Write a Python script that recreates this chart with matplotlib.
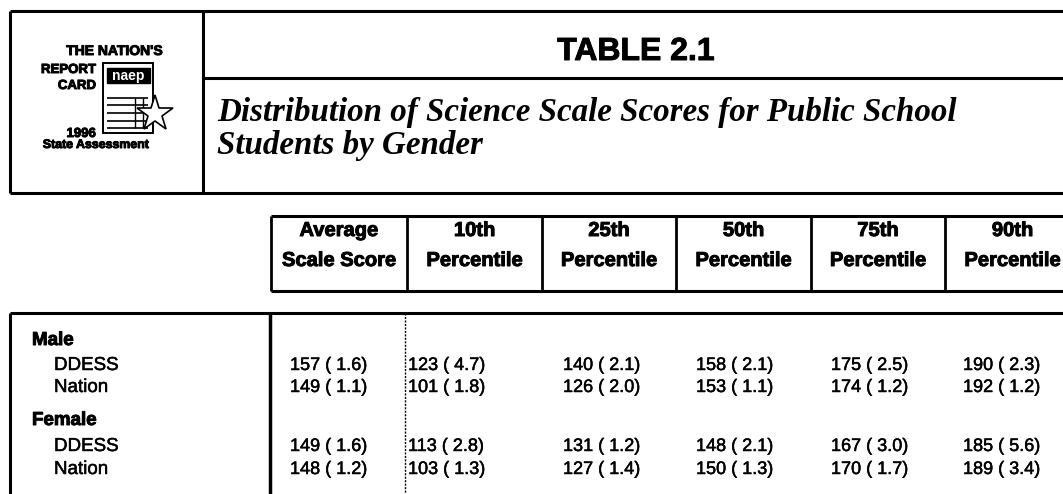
import matplotlib
matplotlib.use("Agg")
import matplotlib.pyplot as plt
import matplotlib.patheffects as pe
from matplotlib.patches import Rectangle

# table content
TITLE = "TABLE 2.1"
SUBTITLE = ["Distribution of Science Scale Scores for Public School",
            "Students by Gender"]
COL_HEADERS = [("Average", "Scale Score"),
               ("10th", "Percentile"),
               ("25th", "Percentile"),
               ("50th", "Percentile"),
               ("75th", "Percentile"),
               ("90th", "Percentile")]
GROUPS = ["Male", "Female"]
SUBROWS = ["DDESS", "Nation"]

# one list per column: Male DDESS, Male Nation, Female DDESS, Female Nation
avg_score = [157, 149, 149, 148]
avg_se = [1.6, 1.1, 1.6, 1.2]
p10 = [123, 101, 113, 103]
p10_se = [4.7, 1.8, 2.8, 1.3]
p25 = [140, 126, 131, 127]
p25_se = [2.1, 2.0, 1.2, 1.4]
p50 = [158, 153, 148, 150]
p50_se = [2.1, 1.1, 2.1, 1.3]
p75 = [175, 174, 167, 170]
p75_se = [2.5, 1.2, 3.0, 1.7]
p90 = [190, 192, 185, 189]
p90_se = [2.3, 1.2, 5.6, 3.4]

SCORES = [avg_score, p10, p25, p50, p75, p90]
ERRORS = [avg_se, p10_se, p25_se, p50_se, p75_se, p90_se]

SANS = "Liberation Sans"
SERIF = "Liberation Serif"
# scanned print looks heavier than the plain fonts
HEAVY = [pe.withStroke(linewidth=0.7, foreground="black")]
LIGHT = [pe.withStroke(linewidth=0.35, foreground="black")]

# layout (pixel coordinates, y downwards)
W, H = 1063, 494
col_edges = [271, 407, 542, 676, 811, 945, 1080]
data_x = [290, 408, 563, 696, 831, 963]
row_base = [370, 392, 451, 474]
group_base = [345, 425]


def hline(ax, y, x0, x1, lw=2.2, **kw):
    ax.plot([x0, x1], [y, y], color="black", lw=lw, solid_capstyle="butt", **kw)


def vline(ax, x, y0, y1, lw=2.2, **kw):
    ax.plot([x, x], [y0, y1], color="black", lw=lw, solid_capstyle="butt", **kw)


def draw_logo(ax):
    kw = dict(fontfamily=SANS, fontweight="bold", va="baseline", path_effects=HEAVY)
    ax.text(162, 55, "THE NATION'S", fontsize=10, ha="right", **kw)
    ax.text(96, 73, "REPORT", fontsize=9.5, ha="right", **kw)
    ax.text(96, 89, "CARD", fontsize=9.5, ha="right", **kw)
    ax.text(96, 137, "1996", fontsize=9.5, ha="right", **kw)
    ax.text(96, 148, "State Assessment", fontsize=8.9, ha="center", **kw)

    # little report card
    ax.add_patch(Rectangle((103, 63), 50, 70, fill=False, ec="black", lw=1.4))
    ax.add_patch(Rectangle((107, 68), 43, 15, fc="black", ec="black"))
    ax.text(128.5, 76, "naep", color="white", fontfamily=SANS,
            fontweight="bold", fontsize=10, ha="center", va="center")
    for y in [98, 105, 113, 121, 128]:
        hline(ax, y, 107, 148, lw=1.2)
    for x in [135, 143]:
        vline(ax, x, 98, 128, lw=1.0)
    ax.plot([155], [114], marker="*", markersize=27, mfc="white",
            mec="black", mew=1.2)


fig = plt.figure(figsize=(W / 100, H / 100), dpi=100)
ax = fig.add_axes([0, 0, 1, 1])
ax.set_xlim(0, W)
ax.set_ylim(H, 0)
ax.axis("off")

# header box
hline(ax, 11, 10, W + 5)
hline(ax, 193, 10, W + 5)
vline(ax, 10, 11, 193)
vline(ax, 203, 11, 193)
hline(ax, 78, 203, W + 5)
draw_logo(ax)

ax.text(636, 60, TITLE, fontfamily=SANS, fontweight="bold", fontsize=23,
        ha="center", va="baseline", path_effects=HEAVY)
ax.text(217, 121, SUBTITLE[0], fontfamily=SERIF, fontweight="bold",
        fontstyle="italic", fontsize=23.8, ha="left", va="baseline")
ax.text(217, 154, SUBTITLE[1], fontfamily=SERIF, fontweight="bold",
        fontstyle="italic", fontsize=23.8, ha="left", va="baseline")

# column header boxes
hline(ax, 216, col_edges[0], W + 5)
hline(ax, 291, col_edges[0], W + 5)
for x in col_edges[:-1]:
    vline(ax, x, 216, 291, lw=2.0)
for i, (l1, l2) in enumerate(COL_HEADERS):
    cx = (col_edges[i] + col_edges[i + 1]) / 2
    ax.text(cx, 236, l1, fontfamily=SANS, fontweight="bold", fontsize=14.5,
            ha="center", va="baseline", path_effects=HEAVY)
    ax.text(cx, 266, l2, fontfamily=SANS, fontweight="bold", fontsize=14.5,
            ha="center", va="baseline", path_effects=HEAVY)

# body frame
hline(ax, 313, 10, W + 5)
vline(ax, 10, 313, H + 5)
vline(ax, 270, 313, H + 5, lw=2.5)
vline(ax, 405, 313, H + 5, lw=1.0, linestyle=(0, (1.5, 1)))

# row labels
for g, group in enumerate(GROUPS):
    ax.text(32, group_base[g], group, fontfamily=SANS, fontweight="bold",
            fontsize=13.5, ha="left", va="baseline", path_effects=HEAVY)
    for s, sub in enumerate(SUBROWS):
        ax.text(54, row_base[g * 2 + s], sub, fontfamily=SANS,
                fontsize=13.5, ha="left", va="baseline", path_effects=LIGHT)

# values
for c in range(len(SCORES)):
    for r in range(len(row_base)):
        txt = f"{SCORES[c][r]} ( {ERRORS[c][r]:.1f})"
        ax.text(data_x[c], row_base[r], txt, fontfamily=SANS, fontsize=13,
                ha="left", va="baseline", path_effects=LIGHT)

fig.savefig("out.png", dpi=100)
